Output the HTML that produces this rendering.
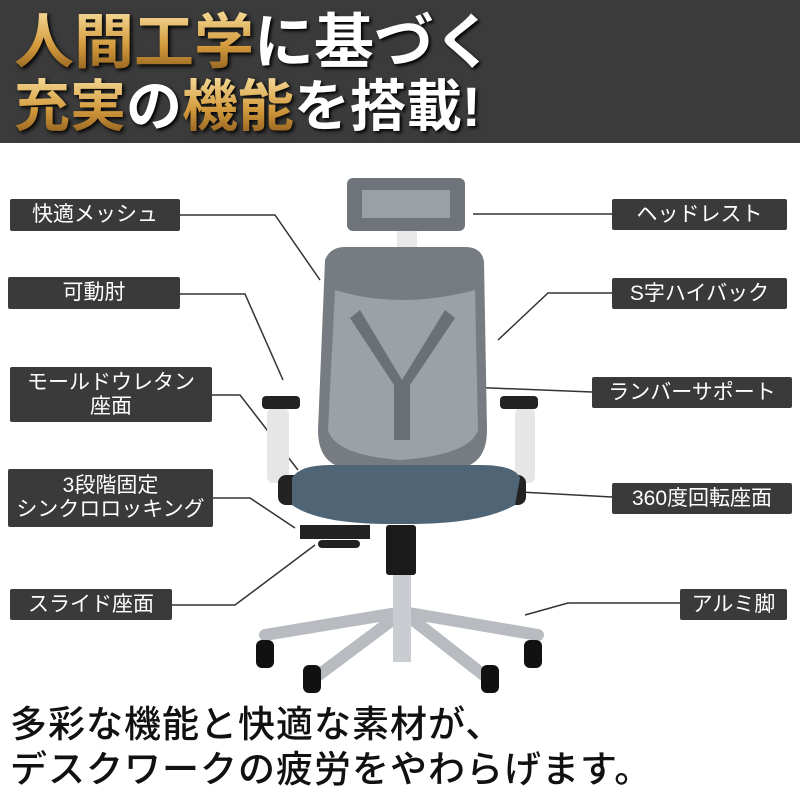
<!DOCTYPE html>
<html><head><meta charset="utf-8"><style>
body{margin:0;width:800px;height:800px;background:#fff;position:relative;overflow:hidden;font-family:"Liberation Sans","Noto Sans CJK JP",sans-serif}
.hdr{position:absolute;left:0;top:0;width:800px;height:143px;background:#3b3b3b}
.t{position:absolute;left:14px;font-weight:700;white-space:nowrap;color:#fff;text-shadow:2px 2px 3px #000}
.g{background:linear-gradient(#f6dc9a,#d39a3c 55%,#8a5a1c);-webkit-background-clip:text;background-clip:text;color:transparent;text-shadow:none;filter:drop-shadow(2px 2px 2px #000)}
.b{position:absolute;background:#3a3a3a;color:#fff;font-size:21px;text-align:center;line-height:24px;border-radius:2px;display:flex;align-items:center;justify-content:center;white-space:nowrap}
.bt{position:absolute;left:10px;font-size:37px;font-weight:500;color:#111;white-space:nowrap;letter-spacing:1px}
</style></head><body>
<div class="hdr"></div>
<div class="t" style="top:8px;font-size:60px;line-height:70px"><span class="g">人間工学</span>に基づく</div>
<div class="t" style="top:74px;font-size:56px;line-height:66px"><span class="g">充実</span>の<span class="g">機能</span>を搭載!</div>

<svg style="position:absolute;left:0;top:0" width="800" height="800">
<g stroke="#333" stroke-width="1.5" fill="none">
<polyline points="180,215 275,215 320,280"/>
<polyline points="180,294 245,294 283,380"/>
<polyline points="212,395 240,395 298,470"/>
<polyline points="213,498 250,498 295,528"/>
<polyline points="172,605 235,605 315,545"/>
<polyline points="473,214 612,214"/>
<polyline points="612,293 548,293 498,340"/>
<polyline points="466,387 592,392"/>
<polyline points="520,492 612,497"/>
<polyline points="525,615 568,603 680,603"/>
</g>
<g stroke="#b8bcc0" stroke-width="12" stroke-linecap="round">
<line x1="403" y1="612" x2="265" y2="635"/><line x1="403" y1="612" x2="312" y2="680"/>
<line x1="403" y1="612" x2="490" y2="680"/><line x1="403" y1="612" x2="538" y2="635"/>
<line x1="403" y1="612" x2="403" y2="655"/>
</g>
<g fill="#111">
<rect x="256" y="640" width="18" height="28" rx="6"/><rect x="303" y="665" width="18" height="28" rx="6"/>
<rect x="481" y="665" width="18" height="28" rx="6"/><rect x="524" y="640" width="18" height="28" rx="6"/>
</g>
<rect x="393" y="572" width="18" height="90" fill="#c9ccd0"/>
<rect x="386" y="525" width="30" height="50" rx="3" fill="#1a1a1a"/>
<rect x="300" y="525" width="70" height="14" fill="#222"/><rect x="318" y="540" width="42" height="8" rx="4" fill="#222"/>
<rect x="397" y="228" width="20" height="24" fill="#e8e8e8"/>
<rect x="347" y="178" width="118" height="53" rx="6" fill="#6e7479"/>
<rect x="362" y="190" width="88" height="28" fill="#9aa0a4"/>
<rect x="267" y="408" width="22" height="75" rx="6" fill="#e6e6e6"/>
<rect x="515" y="408" width="20" height="75" rx="6" fill="#e6e6e6"/>
<rect x="262" y="396" width="38" height="13" rx="4" fill="#222"/>
<rect x="500" y="396" width="38" height="13" rx="4" fill="#222"/>
<rect x="278" y="475" width="30" height="30" rx="8" fill="#222"/>
<rect x="498" y="475" width="28" height="30" rx="8" fill="#222"/>
<path d="M325 260 Q330 247 345 247 L465 247 Q482 247 484 262 L487 430 Q487 460 465 467 L340 467 Q318 460 318 430 Z" fill="#767c81"/>
<path d="M335 290 Q400 310 475 290 L478 430 Q470 455 400 460 Q335 455 328 430 Z" fill="#9ca1a5"/>
<path d="M360 310 L402 380 L445 310 L455 318 L410 385 L410 440 L394 440 L394 385 L350 318 Z" fill="#6a7075"/>
<path d="M292 478 Q300 465 330 465 L480 465 Q515 465 520 478 L515 505 Q480 525 400 524 Q320 525 292 505 Z" fill="#4f6576"/>
</svg>

<div class="b" style="left:10px;top:199px;width:170px;height:32px">快適メッシュ</div>
<div class="b" style="left:8px;top:277px;width:172px;height:32px">可動肘</div>
<div class="b" style="left:10px;top:367px;width:202px;height:55px;flex-direction:column">モールドウレタン<br>座面</div>
<div class="b" style="left:8px;top:469px;width:205px;height:58px;flex-direction:column">3段階固定<br>シンクロロッキング</div>
<div class="b" style="left:10px;top:589px;width:162px;height:31px">スライド座面</div>
<div class="b" style="left:612px;top:199px;width:175px;height:31px">ヘッドレスト</div>
<div class="b" style="left:612px;top:278px;width:175px;height:31px">S字ハイバック</div>
<div class="b" style="left:592px;top:377px;width:200px;height:31px">ランバーサポート</div>
<div class="b" style="left:612px;top:483px;width:180px;height:31px">360度回転座面</div>
<div class="b" style="left:680px;top:589px;width:107px;height:31px">アルミ脚</div>

<div class="bt" style="top:694px">多彩な機能と快適な素材が、</div>
<div class="bt" style="top:739px">デスクワークの疲労をやわらげます。</div>
</body></html>
